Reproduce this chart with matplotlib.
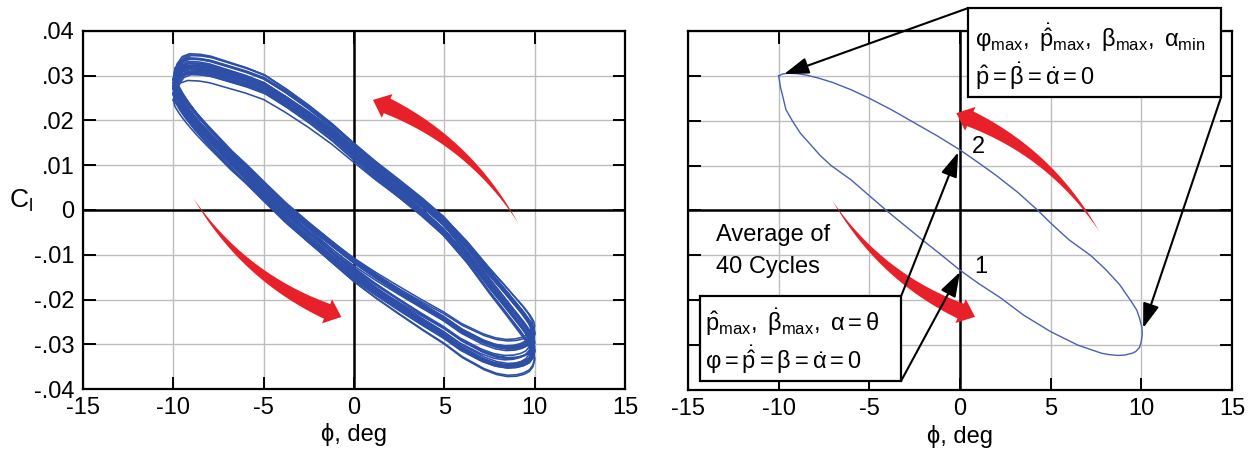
import numpy as np
import matplotlib
matplotlib.use('Agg')
import matplotlib.pyplot as plt
from matplotlib.patches import Polygon, Rectangle

plt.rcParams['font.family'] = ['Liberation Sans', 'DejaVu Sans']
plt.rcParams['mathtext.fontset'] = 'custom'
plt.rcParams['mathtext.rm'] = 'Liberation Sans'
plt.rcParams['mathtext.it'] = 'Liberation Sans'
plt.rcParams['mathtext.bf'] = 'Liberation Sans:bold'

# axis ticks
xticks = [-15, -10, -5, 0, 5, 10, 15]
yticks = [0.04, 0.03, 0.02, 0.01, 0.0, -0.01, -0.02, -0.03, -0.04]
ytick_labels = ['.04', '.03', '.02', '.01', '0', '-.01', '-.02', '-.03', '-.04']

run_phi = [-10.0, -9.9, -9.6, -9.2, -8.6, -8.0, -7.0, -6.0, -5.0, -3.8, -2.5, -1.2, 0.0, 1.2,
           2.5, 3.8, 5.0, 6.3, 7.5, 8.3, 8.9, 9.4, 9.75, 9.95, 10.0,
           9.9, 9.7, 9.4, 9.0, 8.5, 7.9, 7.2, 6.0, 5.0, 3.8, 2.5, 1.2, 0.0, -1.2, -2.5, -3.8,
           -5.0, -6.0, -6.8, -7.5, -8.2, -8.8, -9.3, -9.65, -9.9, -10.0]
run_cl = [0.0275, 0.0300, 0.0316, 0.0322, 0.0321, 0.0317, 0.0305, 0.0293, 0.0278, 0.0248,
          0.0212, 0.0172, 0.0130, 0.0089, 0.0048, 0.0006, -0.0036, -0.0094, -0.0156, -0.0195,
          -0.0225, -0.0250, -0.0270, -0.0285, -0.0296,
          -0.0310, -0.0320, -0.0326, -0.0330, -0.0331, -0.0327, -0.0317, -0.0292, -0.0264,
          -0.0235, -0.0202, -0.0168, -0.0134, -0.0095, -0.0052, -0.0007, 0.0040, 0.0080,
          0.0110, 0.0140, 0.0170, 0.0197, 0.0222, 0.0242, 0.0259, 0.0275]

# cycle to cycle spread (phi scale, cl scale, cl shift, cl tilt per deg)
cycle_sx = [1.00, 0.99, 1.00, 0.98, 1.00, 0.99, 1.00, 1.00, 0.99, 0.98,
            1.00, 0.99, 1.00, 0.99, 1.00, 0.98, 1.00, 0.99, 1.00, 1.00,
            0.99, 1.00, 0.98, 1.00, 0.99, 1.00, 0.99, 1.00, 0.98, 1.00]
cycle_sy = [1.00, 1.05, 0.94, 1.07, 0.97, 1.03, 0.93, 1.06, 1.00, 0.96,
            1.04, 0.98, 1.02, 0.94, 1.05, 1.01, 0.96, 1.05, 0.99, 1.03,
            0.95, 1.07, 0.97, 1.03, 0.93, 1.02, 1.06, 0.96, 1.00, 0.94]
cycle_dy = [0.0000, 0.0012, -0.0016, 0.0005, 0.0020, -0.0008, 0.0010, -0.0018, 0.0016, -0.0003,
            -0.0011, 0.0022, -0.0015, 0.0007, 0.0003, -0.0020, 0.0014, -0.0006, 0.0019, -0.0012,
            0.0009, -0.0016, 0.0013, -0.0004, 0.0017, -0.0019, 0.0006, 0.0011, -0.0009, 0.0001]
cycle_tilt = [0.00000, 0.00004, -0.00003, 0.00005, -0.00006, 0.00002, 0.00006, -0.00004, 0.00001, -0.00005,
              0.00003, -0.00002, 0.00005, -0.00004, 0.00002, 0.00003, -0.00006, 0.00004, -0.00001, 0.00002,
              -0.00003, 0.00001, 0.00005, -0.00005, 0.00002, 0.00004, -0.00002, -0.00004, 0.00006, -0.00001]

# average of 40 cycles (right)
avg_phi = [-10.0, -9.8, -9.5, -9.0, -8.5, -7.8, -7.0, -6.0, -5.0, -3.8, -2.5, -1.2, 0.0, 1.0,
           2.0, 3.2, 4.3, 5.0, 6.0, 7.2, 8.0, 8.8, 9.4, 9.75, 9.9, 10.03, 10.05, 10.0, 9.9,
           9.7, 9.5, 9.1, 8.7, 8.2, 7.8, 6.5, 5.0, 3.5, 2.25, 1.0, 0.0, -1.0, -2.0, -3.0,
           -4.0, -5.0, -6.0, -7.1, -7.7, -8.2, -8.8, -9.25, -9.6, -9.9, -10.0]
avg_cl = [0.0300, 0.0304, 0.0306, 0.0305, 0.0302, 0.0295, 0.0285, 0.0269, 0.0250, 0.0225,
          0.0195, 0.0165, 0.0135, 0.0107, 0.0078, 0.0040, 0.0000, -0.0028, -0.0065, -0.0100,
          -0.0130, -0.0165, -0.0200, -0.0222, -0.0240, -0.0260, -0.0275, -0.0292, -0.0305,
          -0.0314, -0.0318, -0.0322, -0.0323, -0.0321, -0.0318, -0.0300, -0.0270, -0.0233,
          -0.0195, -0.0162, -0.0133, -0.0100, -0.0068, -0.0035, -0.0002, 0.0033, 0.0068,
          0.0100, 0.0122, 0.0145, 0.0172, 0.0200, 0.0225, 0.0275, 0.0300]

# red direction arrows (tail, head) per panel
left_arrows = [((9.1, -0.0030), (1.05, 0.0246)), ((-8.9, 0.0027), (-0.7, -0.0239))]
right_arrows = [((7.7, -0.0048), (-0.2, 0.0217)), ((-7.05, 0.0023), (0.83, -0.0237))]

BLUE = '#2d4fa8'
RED = '#e8202a'
FS = 17


def setup(ax, show_y):
    ax.set_xlim(-15, 15)
    ax.set_ylim(-0.04, 0.04)
    ax.set_xticks(xticks)
    ax.set_xticklabels([str(t) for t in xticks])
    ax.set_yticks(yticks)
    ax.set_yticklabels(ytick_labels)
    ax.grid(True, color='#bdbdbd', lw=1.0)
    ax.set_axisbelow(True)
    ax.axhline(0, color='k', lw=1.8, zorder=1.5)
    ax.axvline(0, color='k', lw=1.8, zorder=1.5)
    ax.tick_params(direction='in', length=9, width=1.4, top=True, right=True,
                   labelsize=FS, pad=6, labelleft=show_y)
    for s in ax.spines.values():
        s.set_linewidth(1.6)
    ax.set_xlabel('ϕ, deg', fontsize=FS, labelpad=3)


def red_arrow(ax, tail, head, bend=-0.17, body_w=16, head_w=26, head_len=15):
    p0 = ax.transData.transform(tail)
    p2 = ax.transData.transform(head)
    ch = p2 - p0
    L = np.hypot(*ch)
    n = np.array([-ch[1], ch[0]]) / L
    c = (p0 + p2) / 2 + bend * L * n
    t = np.linspace(0, 1, 300)[:, None]
    pts = (1 - t) ** 2 * p0 + 2 * (1 - t) * t * c + t ** 2 * p2
    seg = np.hypot(*np.diff(pts, axis=0).T)
    s = np.concatenate([[0], np.cumsum(seg)])
    keep = s <= s[-1] - head_len
    body = pts[keep]
    tang = np.gradient(body, axis=0)
    tang /= np.hypot(tang[:, 0], tang[:, 1])[:, None]
    nrm = np.column_stack([-tang[:, 1], tang[:, 0]])
    w = (body_w / 2) * (s[keep] / s[keep][-1])[:, None] ** 1.1
    left = body + nrm * w
    right = body - nrm * w
    b = body[-1]
    nb = nrm[-1]
    poly = np.vstack([left, b + nb * head_w / 2, p2, b - nb * head_w / 2, right[::-1]])
    poly = ax.transData.inverted().transform(poly)
    ax.add_patch(Polygon(poly, closed=True, fc=RED, ec='none', zorder=3))


fig = plt.figure(figsize=(12.55, 4.53), dpi=100)
ax1 = fig.add_axes([83 / 1255, 64 / 453, 542 / 1255, 358 / 453])
ax2 = fig.add_axes([688 / 1255, 63 / 453, 544 / 1255, 359 / 453])

# left panel
setup(ax1, True)
rp = np.array(run_phi)
rc = np.array(run_cl)
for sx, sy, dy, tl in zip(cycle_sx, cycle_sy, cycle_dy, cycle_tilt):
    ax1.plot(rp * sx, rc * sy + dy + tl * rp, color=BLUE, lw=1.15, zorder=2)
for tail, head in left_arrows:
    red_arrow(ax1, tail, head)
ax1.text(-0.115, 0.525, r'C$_\mathrm{l}$', transform=ax1.transAxes, fontsize=19,
         ha='center', va='center')

# right panel
setup(ax2, False)
ax2.plot(avg_phi, avg_cl, color='#4a5fb2', lw=1.0, zorder=2)
for tail, head in right_arrows:
    red_arrow(ax2, tail, head)

ax2.text(-13.46, -0.0055, 'Average of', fontsize=FS, va='center', ha='left', zorder=4)
ax2.text(-13.46, -0.0126, '40 Cycles', fontsize=FS, va='center', ha='left', zorder=4)
ax2.text(1.15, -0.0126, '1', fontsize=FS, va='center', ha='center', zorder=4)
ax2.text(1.0, 0.0141, '2', fontsize=FS, va='center', ha='center', zorder=4)

# annotation boxes
ax2.add_patch(Rectangle((0.44, 0.0253), 13.96, 0.0198, fc='white', ec='k', lw=1.6,
                        clip_on=False, zorder=5))
ax2.add_patch(Rectangle((-14.34, -0.0380), 11.09, 0.0189, fc='white', ec='k', lw=1.6,
                        clip_on=False, zorder=5))
ax2.text(0.8, 0.0386, r'$\varphi_{\mathrm{max}},\ \dot{\hat{p}}_{\mathrm{max}},\ \beta_{\mathrm{max}},\ \alpha_{\mathrm{min}}$',
         fontsize=FS, va='center', ha='left', zorder=6, clip_on=False)
ax2.text(0.8, 0.0300, r'$\hat{p} = \dot{\beta} = \dot{\alpha} = 0$',
         fontsize=FS, va='center', ha='left', zorder=6, clip_on=False)
ax2.text(-14.05, -0.0250, r'$\hat{p}_{\mathrm{max}},\ \dot{\beta}_{\mathrm{max}},\ \alpha = \theta$',
         fontsize=FS, va='center', ha='left', zorder=6)
ax2.text(-14.05, -0.0333, r'$\varphi = \dot{\hat{p}} = \beta = \dot{\alpha} = 0$',
         fontsize=FS, va='center', ha='left', zorder=6)

aprops = dict(arrowstyle='-|>,head_length=0.75,head_width=0.25', color='k', lw=1.5,
              mutation_scale=20, shrinkA=0, shrinkB=0)
for start, tip in [((0.44, 0.0451), (-9.7, 0.0304)), ((14.4, 0.0253), (10.1, -0.0262)),
                   ((-3.25, -0.0191), (-0.1, 0.0130)), ((-3.25, -0.0380), (0.0, -0.0137))]:
    ax2.annotate('', xy=tip, xytext=start, arrowprops=aprops, annotation_clip=False, zorder=4)

fig.savefig('out.png', dpi=100)
